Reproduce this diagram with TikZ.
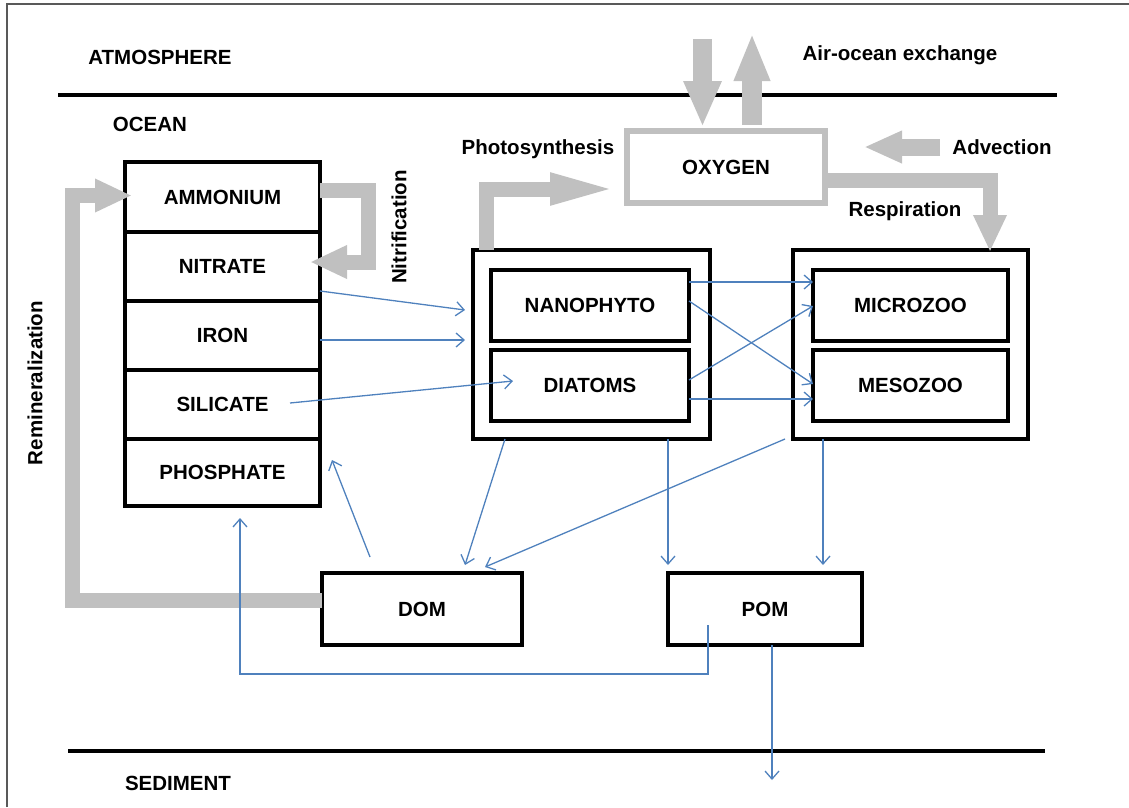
\documentclass[tikz,border=0pt]{standalone}
\usepackage{fontspec}
\setmainfont{Liberation Sans}
\usetikzlibrary{arrows.meta,calc}
\definecolor{flowblue}{HTML}{4F81BD}
\definecolor{bandgray}{HTML}{C0C0C0}
\tikzset{
  lbl/.style={font=\fontsize{20.5}{22}\selectfont\bfseries, inner sep=0pt},
  cell/.style={draw, line width=4pt, minimum width=195pt, minimum height=#1, inner sep=0pt, outer sep=0pt, font=\fontsize{20.5}{22}\selectfont\bfseries},
  bigbox/.style={draw, line width=4pt, inner sep=0pt, outer sep=0pt},
  flow/.style={draw=flowblue, line width=1.3pt, -{Straight Barb[length=8pt,width=14pt,line width=1.3pt]}},
  band/.style={draw=bandgray, line width=15pt, line cap=butt, line join=miter, -{Triangle[length=37pt,width=31pt]}},
}
\begin{document}
\begin{tikzpicture}[x=1pt,y=-1pt]
\useasboundingbox (0,0) rectangle (1129,807);
% frame
\draw[gray!70!black, line width=1.5pt] (7,807) -- (7,4) -- (1129,4);
% layer lines
\draw[line width=3.5pt] (58,95) -- (1057,95);
\draw[line width=3.5pt] (68,751) -- (1045,751);
% labels
\node[lbl] (atm) at (160,57) {ATMOSPHERE};
\node[lbl] (ocean) at (150,124) {OCEAN};
\node[lbl] (sed) at (178,783) {SEDIMENT};
\node[lbl] (airex) at (900,55) {Air-ocean exchange};
\node[lbl] (advl) at (1002,147) {Advection};
\node[lbl] (photl) at (538,149) {Photosynthesis};
\node[lbl] (respl) at (905,211) {Respiration};
\node[lbl, rotate=90] (nitl) at (399,227) {Nitrification};
\node[lbl, rotate=90] (reml) at (35,383) {Remineralization};
% nutrient column
\node[cell=70pt] (ammonium) at (222.5,197) {AMMONIUM};
\node[cell=69pt] (nitrate) at (222.5,266.5) {NITRATE};
\node[cell=69pt] (iron) at (222.5,335.5) {IRON};
\node[cell=69pt] (silicate) at (222.5,404.5) {SILICATE};
\node[cell=67pt] (phosphate) at (222.5,472.5) {PHOSPHATE};
% phyto / zoo groups
\node[bigbox, minimum width=237pt, minimum height=189pt] (phyto) at (591.5,344.5) {};
\node[cell=71pt, minimum width=198pt] (nano) at (590,305) {NANOPHYTO};
\node[cell=71pt, minimum width=198pt] (diatoms) at (590,385) {DIATOMS};
\node[bigbox, minimum width=235pt, minimum height=189pt] (zoo) at (910.5,344.5) {};
\node[cell=71pt] (micro) at (910.5,305) {MICROZOO};
\node[cell=71pt] (meso) at (910.5,385) {MESOZOO};
% oxygen
\node[cell=72pt, minimum width=198pt, draw=bandgray, line width=6pt] (oxygen) at (726,167) {OXYGEN};
% organic matter
\node[cell=72pt, minimum width=200pt] (dom) at (422,609) {DOM};
\node[cell=72pt, minimum width=194pt] (pom) at (765,609) {POM};
% free ends
\coordinate (airin) at (702.5,39);
\coordinate (airout) at (752,33);
\coordinate (advin) at (940,147);
\coordinate (sedin) at ([xshift=7pt,yshift=-135pt]pom.south);
% gray bands
\draw[band] ([yshift=7pt]ammonium.east) -- ++(48,0) |- ([xshift=-10pt,yshift=4.5pt]nitrate.east);
\draw[band] ([yshift=9pt]dom.west) -- ++(-250,0) |- ([xshift=7pt,yshift=1.5pt]ammonium.west);
\draw[band, -{Triangle[length=70pt,width=28pt]}] ([xshift=13pt]phyto.north west) |- ([xshift=-7pt,yshift=-22pt]oxygen.west);
\draw[band] ([yshift=-13pt]oxygen.east) -| ([xshift=-38pt,yshift=-2pt]zoo.north east);
\draw[band, line width=19pt, -{Triangle[length=46pt,width=35pt]}] (airin) -- ([xshift=-23.5pt,yshift=4pt]oxygen.north);
\draw[band, line width=20pt, -{Triangle[length=48pt,width=33pt]}] ([xshift=26pt,yshift=6pt]oxygen.north) -- (airout);
\draw[band, line width=17pt, -{Triangle[length=38pt,width=30pt]}] (advin) -- ([xshift=39pt,yshift=20pt]oxygen.east);
% blue flows
\draw[flow] ([yshift=-24.5pt]nitrate.east) -- ([xshift=-8pt,yshift=34.5pt]phyto.west);
\draw[flow] ([yshift=-4.5pt]iron.east) -- ([xshift=-8pt,yshift=4.5pt]phyto.west);
\draw[flow] ([xshift=-30pt,yshift=1.5pt]silicate.east) -- ([xshift=22pt,yshift=4pt]diatoms.west);
\draw[flow] ([yshift=23pt]nano.east) -- ([yshift=23pt]micro.west);
\draw[flow] ([yshift=4pt]nano.east) -- ([yshift=1pt]meso.west);
\draw[flow] ([yshift=5pt]diatoms.east) -- ([yshift=-1pt]micro.west);
\draw[flow] ([yshift=-14pt]diatoms.east) -- ([yshift=-14pt]meso.west);
\draw[flow] ([xshift=-86.5pt]phyto.south) -- ([xshift=43pt,yshift=8pt]dom.north);
\draw[flow] ([xshift=76.5pt]phyto.south) -- ([xshift=-97pt,yshift=8pt]pom.north);
\draw[flow] ([xshift=-8pt]zoo.south west) -- ([xshift=63pt,yshift=6pt]dom.north);
\draw[flow] ([xshift=30pt]zoo.south west) -- ([xshift=58pt,yshift=8pt]pom.north);
\draw[flow] ([xshift=-52pt,yshift=16pt]dom.north) -- ([xshift=12pt,yshift=12.5pt]phosphate.east);
\draw[flow] ([xshift=-57pt,yshift=-16pt]pom.center) -- ++(0,49) -| ([xshift=17.5pt,yshift=-12pt]phosphate.south);
\draw[flow] ([xshift=7pt]pom.south) -- (sedin);
\end{tikzpicture}
\end{document}
